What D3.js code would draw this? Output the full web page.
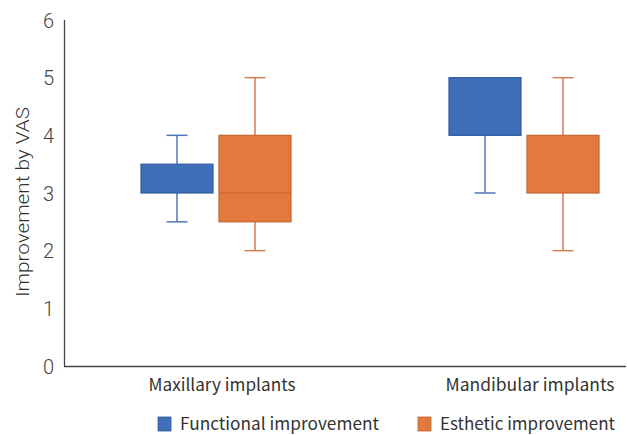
<!DOCTYPE html>
<html><head><meta charset="utf-8">
<script src="https://cdn.jsdelivr.net/npm/d3@7"></script>
<style>body{margin:0;background:#fff}svg{display:block}</style>
</head><body><svg id="c" width="627" height="435"></svg>
<script>
const categories = ["Maxillary implants", "Mandibular implants"];
const seriesNames = ["Functional improvement", "Esthetic improvement"];
// [min, q1, median, q3, max]
const functionalStats = [[2.5, 3, 3, 3.5, 4], [3, 4, 5, 5, 5]];
const estheticStats = [[2, 2.5, 3, 4, 5], [2, 3, 3, 4, 5]];
const yTicks = [0, 1, 2, 3, 4, 5, 6];

const fills = ["#3F6FB8", "#E4793F"];
const borders = ["#2F5A9C", "#C4652F"];
const whisk = ["#4F78B8", "#D27D55"];

const svg = d3.select("#c");
const y = d3.scaleLinear().domain([0, 6]).range([366, 20]);
const x = d3.scalePoint().domain(categories).range([216, 524]);
const sub = d3.scalePoint().domain(seriesNames).range([-39, 39]);
const boxW = 72, capW = 21;

// axes
svg.append("line").attr("x1", 64.5).attr("x2", 64.5).attr("y1", y(6)).attr("y2", y(0)).attr("stroke", "#444").attr("stroke-width", 1.3);
svg.append("line").attr("x1", 64).attr("x2", 626).attr("y1", y(0) + 0.5).attr("y2", y(0) + 0.5).attr("stroke", "#444").attr("stroke-width", 1.3);

svg.selectAll(".yt").data(yTicks).enter().append("text")
  .attr("x", 54).attr("y", d => y(d) + 7.5).attr("text-anchor", "end")
  .attr("font-family", "Roboto").attr("font-weight", 300).attr("font-size", 20).attr("fill", "#444").text(d => d);

svg.append("text").attr("transform", "translate(29,202) rotate(-90)").attr("text-anchor", "middle")
  .attr("font-family", "Roboto").attr("font-weight", 300).attr("font-size", 19).attr("fill", "#333")
  .attr("textLength", 190).attr("lengthAdjust", "spacingAndGlyphs")
  .text("Improvement by VAS");

const catW = {"Maxillary implants": 147, "Mandibular implants": 169};
svg.selectAll(".cl").data(categories).enter().append("text")
  .attr("x", d => x(d) + 6).attr("y", 391).attr("text-anchor", "middle")
  .attr("font-family", "Noto Sans CJK KR").attr("font-size", 17).attr("fill", "#333")
  .attr("textLength", d => catW[d]).attr("lengthAdjust", "spacingAndGlyphs").text(d => d);

const series = [functionalStats, estheticStats];
series.forEach((stats, si) => {
  const name = seriesNames[si];
  const g = svg.append("g");
  stats.forEach((s, ci) => {
    const cx = x(categories[ci]) + sub(name);
    const [mn, q1, md, q3, mx] = s;
    if (mx > q3) {
      g.append("line").attr("x1", cx).attr("x2", cx).attr("y1", y(mx)).attr("y2", y(q3)).attr("stroke", whisk[si]).attr("stroke-width", 1.5);
      g.append("line").attr("x1", cx - capW / 2).attr("x2", cx + capW / 2).attr("y1", y(mx)).attr("y2", y(mx)).attr("stroke", whisk[si]).attr("stroke-width", 1.5);
    }
    if (mn < q1) {
      g.append("line").attr("x1", cx).attr("x2", cx).attr("y1", y(q1)).attr("y2", y(mn)).attr("stroke", whisk[si]).attr("stroke-width", 1.5);
      g.append("line").attr("x1", cx - capW / 2).attr("x2", cx + capW / 2).attr("y1", y(mn)).attr("y2", y(mn)).attr("stroke", whisk[si]).attr("stroke-width", 1.5);
    }
    g.append("rect").attr("x", cx - boxW / 2).attr("width", boxW).attr("y", y(q3)).attr("height", y(q1) - y(q3))
      .attr("fill", fills[si]).attr("stroke", borders[si]).attr("stroke-width", 1.2);
    if (md > q1 && md < q3) {
      g.append("line").attr("x1", cx - boxW / 2).attr("x2", cx + boxW / 2).attr("y1", y(md)).attr("y2", y(md)).attr("stroke", borders[si]).attr("stroke-width", 1.2);
    }
  });
});

// legend
const legX = [158, 418], legTextW = [199, 175];
seriesNames.forEach((n, i) => {
  svg.append("rect").attr("x", legX[i]).attr("y", 417).attr("width", 13).attr("height", 14)
    .attr("fill", fills[i]).attr("stroke", borders[i]).attr("stroke-width", 0.8);
  svg.append("text").attr("x", legX[i] + 22).attr("y", 430)
    .attr("font-family", "Noto Sans CJK KR").attr("font-size", 17).attr("fill", "#333")
    .attr("textLength", legTextW[i]).attr("lengthAdjust", "spacingAndGlyphs").text(n);
});
</script></body></html>
